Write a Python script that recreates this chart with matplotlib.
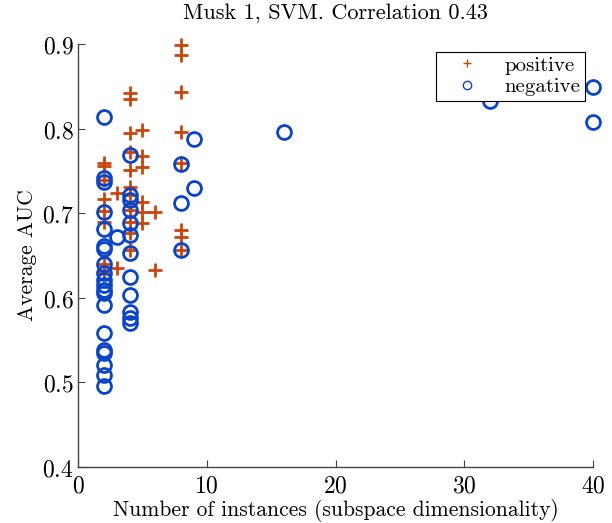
import matplotlib
matplotlib.use('Agg')
import matplotlib.pyplot as plt

plt.rcParams['mathtext.fontset'] = 'cm'

# positive bags: (number of instances, average AUC)
pos_x = [2, 2, 2, 2, 2, 2, 2, 2,
         3, 3,
         4, 4, 4, 4, 4, 4, 4, 4, 4, 4, 4,
         5, 5, 5, 5, 5, 5,
         6, 6,
         8, 8, 8, 8, 8, 8, 8, 8]
pos_y = [0.759, 0.756, 0.739, 0.717, 0.703, 0.689, 0.640, 0.630,
         0.724, 0.635,
         0.842, 0.835, 0.795, 0.772, 0.751, 0.731, 0.722, 0.704, 0.690, 0.677, 0.657,
         0.798, 0.767, 0.754, 0.713, 0.701, 0.688,
         0.701, 0.633,
         0.899, 0.887, 0.843, 0.796, 0.759, 0.680, 0.672, 0.657]

# negative bags
neg_x = [2] * 20 + [3] + [4] * 12 + [8, 8, 8, 9, 9, 16, 32, 40, 40]
neg_y = [0.814, 0.742, 0.737, 0.701, 0.681, 0.661, 0.658, 0.640, 0.629, 0.621,
         0.615, 0.609, 0.606, 0.592, 0.558, 0.538, 0.535, 0.521, 0.509, 0.496,
         0.672,
         0.769, 0.722, 0.716, 0.704, 0.688, 0.674, 0.653, 0.625, 0.603, 0.583, 0.576, 0.570,
         0.758, 0.712, 0.657, 0.788, 0.730, 0.796, 0.833, 0.849, 0.808]

x_ticks = [0, 10, 20, 30, 40]
y_ticks = [0.4, 0.5, 0.6, 0.7, 0.8, 0.9]

orange = '#c8460e'
blue = '#0a44c8'

fig = plt.figure(figsize=(6.12, 5.23), dpi=100)
ax = fig.add_axes([0.1275, 0.107, 0.8415, 0.809])

ax.plot(pos_x, pos_y, '+', color=orange, markersize=10, markeredgewidth=2,
        linestyle='none', clip_on=False, label='positive')
ax.plot(neg_x, neg_y, 'o', color=blue, markerfacecolor='none', markersize=10,
        markeredgewidth=2, linestyle='none', clip_on=False, label='negative')

ax.set_xlim(0, 40)
ax.set_ylim(0.4, 0.9)
ax.set_xticks(x_ticks)
ax.set_yticks(y_ticks)
ax.set_xticklabels([r'$\mathit{%d}$' % t for t in x_ticks], fontsize=17)
ax.set_yticklabels([r'$\mathit{%.1f}$' % t for t in y_ticks], fontsize=17)
ax.tick_params(direction='in', length=5, width=0.8, color='#444444')
ax.tick_params(axis='x', pad=5)
ax.tick_params(axis='y', pad=3)

for s in ['top', 'right']:
    ax.spines[s].set_visible(False)
for s in ['left', 'bottom']:
    ax.spines[s].set_color('#444444')
    ax.spines[s].set_linewidth(1.0)

ax.set_title('Musk 1, SVM. Correlation 0.43', family='cmr10', fontsize=16, pad=18)
ax.set_xlabel('Number of instances (subspace dimensionality)', family='cmr10', fontsize=15.5, labelpad=1)
ax.set_ylabel('Average AUC', family='cmr10', fontsize=15.5, labelpad=4)

leg = ax.legend(loc='upper right', bbox_to_anchor=(0.984, 0.981), borderaxespad=0,
                prop={'family': 'cmr10', 'size': 15},
                fancybox=False, edgecolor='black', framealpha=1, borderpad=0.2,
                handlelength=2.6, handletextpad=0.5, labelspacing=0.15, markerscale=0.6)
leg.get_frame().set_linewidth(0.8)
for h in leg.legend_handles:
    h.set_markeredgewidth(1.0)

fig.savefig('out.png', dpi=100)
